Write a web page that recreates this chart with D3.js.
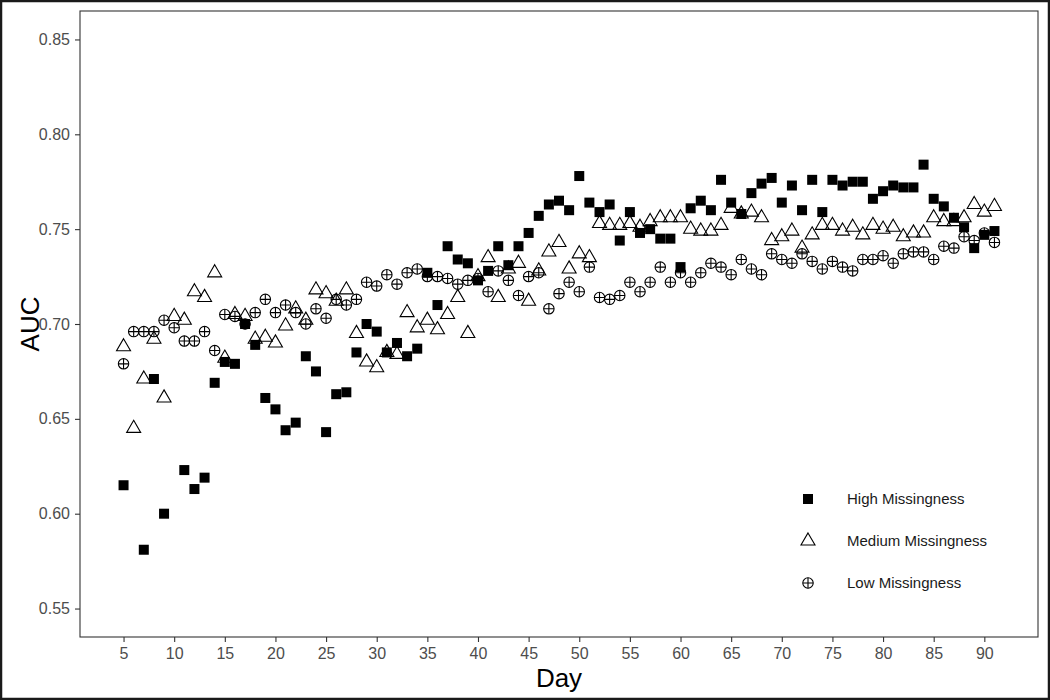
<!DOCTYPE html>
<html>
<head>
<meta charset="utf-8">
<script src="https://cdn.jsdelivr.net/npm/d3@7"></script>
<style>
  body { margin: 0; background: #fff; }
  svg { display: block; font-family: "Liberation Sans", Arial, sans-serif; }
</style>
</head>
<body>
<svg id="chart"></svg>
<script>
// days 5..91
var days = d3.range(5, 92);

// AUC per day, null = no point drawn
var highMiss = [0.615, null, 0.581, 0.671, 0.600, null, 0.623, 0.613, 0.619, 0.669,
  0.680, 0.679, 0.700, 0.689, 0.661, 0.655, 0.644, 0.648, 0.683, 0.675,
  0.643, 0.663, 0.664, 0.685, 0.700, 0.696, 0.685, 0.690, 0.683, 0.687,
  0.727, 0.710, 0.741, 0.734, 0.732, 0.723, 0.728, 0.741, 0.731, 0.741,
  0.748, 0.757, 0.763, 0.765, 0.760, 0.778, 0.764, 0.759, 0.763, 0.744,
  0.759, 0.748, 0.750, 0.745, 0.745, 0.730, 0.761, 0.765, 0.760, 0.776,
  0.764, 0.758, 0.769, 0.774, 0.777, 0.764, 0.773, 0.760, 0.776, 0.759,
  0.776, 0.773, 0.775, 0.775, 0.766, 0.770, 0.773, 0.772, 0.772, 0.784,
  0.766, 0.762, 0.756, 0.751, 0.740, 0.747, 0.749];

var mediumMiss = [0.688, 0.645, 0.671, 0.692, 0.661, 0.704, 0.702, 0.717, 0.714, 0.727,
  0.682, 0.705, 0.704, 0.692, 0.693, 0.690, 0.699, 0.708, 0.702, 0.718,
  0.716, 0.712, 0.718, 0.695, 0.680, 0.677, 0.685, 0.684, 0.706, 0.698,
  0.702, 0.697, 0.705, 0.714, 0.695, 0.725, 0.735, 0.714, 0.729, 0.732,
  0.712, 0.728, 0.738, 0.743, 0.729, 0.737, 0.735, 0.753, 0.752, 0.752,
  0.753, 0.751, 0.754, 0.756, 0.756, 0.756, 0.750, 0.749, 0.749, 0.752,
  0.761, 0.758, 0.759, 0.756, 0.744, 0.746, 0.749, 0.740, 0.747, 0.752,
  0.752, 0.749, 0.751, 0.747, 0.752, 0.750, 0.751, 0.746, 0.748, 0.748,
  0.756, 0.754, 0.754, 0.756, 0.763, 0.759, 0.762];

var lowMiss = [0.679, 0.696, 0.696, 0.696, 0.702, 0.698, 0.691, 0.691, 0.696, 0.686,
  0.705, 0.704, 0.700, 0.706, 0.713, 0.706, 0.710, 0.706, 0.700, 0.708,
  0.703, 0.713, 0.710, 0.713, 0.722, 0.720, 0.726, 0.721, 0.727, 0.729,
  0.725, 0.725, 0.724, 0.721, 0.723, 0.724, 0.717, 0.728, 0.723, 0.715,
  0.725, 0.727, 0.708, 0.716, 0.722, 0.717, 0.730, 0.714, 0.713, 0.715,
  0.722, 0.717, 0.722, 0.730, 0.722, 0.727, 0.722, 0.727, 0.732, 0.730,
  0.726, 0.734, 0.729, 0.726, 0.737, 0.734, 0.732, 0.737, 0.733, 0.729,
  0.733, 0.730, 0.728, 0.734, 0.734, 0.736, 0.732, 0.737, 0.738, 0.738,
  0.734, 0.741, 0.740, 0.746, 0.744, 0.748, 0.743];

var seriesNames = ["High Missingness", "Medium Missingness", "Low Missingness"];
var xTicks = d3.range(5, 91, 5);
var yTicks = [0.55, 0.60, 0.65, 0.70, 0.75, 0.80, 0.85];

var svgWidth = 1050, svgHeight = 700;
var margin = {top: 11, right: 12, bottom: 63, left: 80};
var plotWidth = svgWidth - margin.left - margin.right;
var plotHeight = svgHeight - margin.top - margin.bottom;

var svg = d3.select("#chart")
  .attr("width", svgWidth)
  .attr("height", svgHeight);

// outer frame of the picture
svg.append("rect")
  .attr("x", 1).attr("y", 1)
  .attr("width", svgWidth - 2).attr("height", svgHeight - 2)
  .attr("fill", "#fff").attr("stroke", "#1a1a1a").attr("stroke-width", 2.5);

var plot = svg.append("g")
  .attr("transform", "translate(" + margin.left + "," + margin.top + ")");

var xScale = d3.scaleLinear().domain([0.7, 95.3]).range([0, plotWidth]);
var yScale = d3.scaleLinear().domain([0.535, 0.865]).range([plotHeight, 0]);

// axes
var xAxis = d3.axisBottom(xScale).tickValues(xTicks).tickSize(5).tickPadding(6);
var yAxis = d3.axisLeft(yScale).tickValues(yTicks).tickSize(5).tickPadding(5)
  .tickFormat(d3.format(".2f"));

var xGroup = plot.append("g").attr("transform", "translate(0," + plotHeight + ")").call(xAxis);
var yGroup = plot.append("g").call(yAxis);

[xGroup, yGroup].forEach(function(g) {
  g.select(".domain").remove();
  g.selectAll(".tick line").attr("stroke", "#333").attr("stroke-width", 1.1);
  g.selectAll(".tick text")
    .attr("fill", "#4d4d4d")
    .style("font-size", "16px")
    .style("font-family", "'Liberation Sans', Arial, sans-serif");
});

// panel border
plot.append("rect")
  .attr("width", plotWidth).attr("height", plotHeight)
  .attr("fill", "none").attr("stroke", "#333").attr("stroke-width", 1.1);

// axis titles
svg.append("text")
  .attr("x", margin.left + plotWidth / 2)
  .attr("y", 687)
  .attr("text-anchor", "middle")
  .style("font-size", "26px")
  .text("Day");

svg.append("text")
  .attr("transform", "translate(39," + (margin.top + plotHeight / 2) + ") rotate(-90)")
  .attr("text-anchor", "middle")
  .style("font-size", "26px")
  .text("AUC");

// marker drawing helpers
function drawSquare(g) {
  g.append("rect").attr("x", -5).attr("y", -5).attr("width", 10).attr("height", 10)
    .attr("fill", "#000");
}
function drawTriangle(g) {
  g.append("path").attr("d", d3.symbol().type(d3.symbolTriangle).size(85)())
    .attr("fill", "none").attr("stroke", "#000").attr("stroke-width", 1.1);
}
function drawCirclePlus(g) {
  g.append("circle").attr("r", 5.2)
    .attr("fill", "none").attr("stroke", "#000").attr("stroke-width", 1.1);
  g.append("path").attr("d", "M-5.2,0H5.2M0,-5.2V5.2")
    .attr("stroke", "#000").attr("stroke-width", 1.1);
}

function addSeries(values, drawer) {
  var pts = days.map(function(d, i) { return [d, values[i]]; })
    .filter(function(p) { return p[1] != null; });
  plot.append("g").selectAll("g")
    .data(pts)
    .enter().append("g")
    .attr("transform", function(p) { return "translate(" + xScale(p[0]) + "," + yScale(p[1]) + ")"; })
    .each(function() { drawer(d3.select(this)); });
}

addSeries(mediumMiss, drawTriangle);
addSeries(lowMiss, drawCirclePlus);
addSeries(highMiss, drawSquare);

// legend inside panel
var drawers = [drawSquare, drawTriangle, drawCirclePlus];
var legendY = [499, 541, 583];
seriesNames.forEach(function(name, i) {
  var key = svg.append("g").attr("transform", "translate(808," + legendY[i] + ")");
  drawers[i](key);
  svg.append("text")
    .attr("x", 847).attr("y", legendY[i])
    .attr("dy", "0.35em")
    .style("font-size", "15px")
    .attr("fill", "#1a1a1a")
    .text(name);
});
</script>
</body>
</html>
